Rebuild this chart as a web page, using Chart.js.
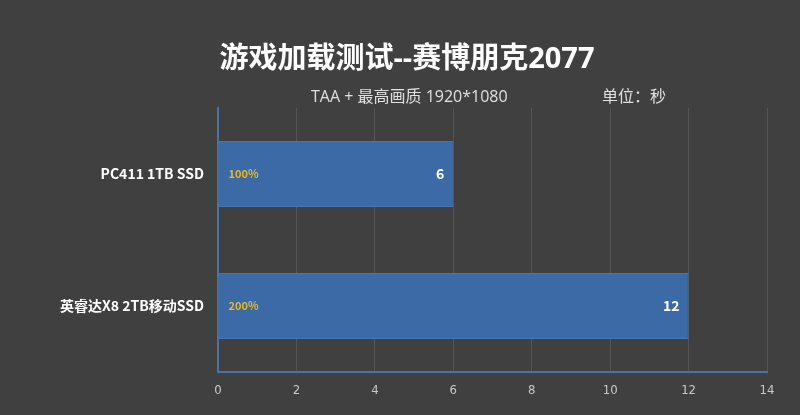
<!DOCTYPE html>
<html>
<head>
<meta charset="utf-8">
<script src="https://cdn.jsdelivr.net/npm/chart.js@4.4.0/dist/chart.umd.min.js"></script>
<style>
  html, body { margin: 0; padding: 0; background: #404040; }
  #wrap { width: 800px; height: 415px; }
</style>
</head>
<body>
<div id="wrap"><canvas id="myChart" width="800" height="415"></canvas></div>
<script>
'use strict';

let titleText = '游戏加载测试--赛博朋克2077';
let subText = 'TAA + 最高画质 1920*1080';
let unitText = '单位：秒';

let drives = ['PC411 1TB SSD', '英睿达X8 2TB移动SSD'];
let loadTimes = [6, 12];
let ratioLabels = ['100%', '200%'];
let xTicks = [0, 2, 4, 6, 8, 10, 12, 14];

let cjk = '"Noto Sans CJK SC", "Noto Sans", sans-serif';
let wide = '"Open Sans", "Noto Sans CJK SC", sans-serif';

// title, subtitle and the labels inside bars
let textPlugin = {
  id: 'texts',
  afterDatasetsDraw(chart) {
    let ctx = chart.ctx;
    ctx.save();
    ctx.textBaseline = 'middle';

    ctx.fillStyle = '#ffffff';
    ctx.font = 'bold 29px ' + wide;
    ctx.textAlign = 'center';
    ctx.fillText(titleText, 407, 60);

    ctx.fillStyle = '#e0e0e0';
    ctx.font = '16px ' + wide;
    ctx.textAlign = 'left';
    ctx.fillText(subText, 311, 97);
    ctx.fillText(unitText, 602, 97);

    let meta = chart.getDatasetMeta(0);
    meta.data.forEach(function (bar, i) {
      ctx.font = 'bold 14px ' + cjk;
      ctx.fillStyle = '#ffffff';
      ctx.textAlign = 'right';
      ctx.fillText(String(loadTimes[i]), bar.x - 9, bar.y);

      ctx.font = 'bold 11px ' + cjk;
      ctx.fillStyle = '#e8b923';
      ctx.textAlign = 'left';
      ctx.fillText(ratioLabels[i], bar.base + 10, bar.y);
    });
    ctx.restore();
  }
};

let ctx = document.getElementById('myChart').getContext('2d');

new Chart(ctx, {
  type: 'bar',
  data: {
    labels: drives,
    datasets: [{
      data: loadTimes,
      backgroundColor: '#3b6aa6',
      borderColor: '#4677b3',
      borderWidth: 1,
      categoryPercentage: 1,
      barPercentage: 0.5
    }]
  },
  options: {
    indexAxis: 'y',
    responsive: false,
    animation: false,
    layout: { padding: { top: 108, right: 33, left: 0, bottom: 0 } },
    plugins: {
      legend: { display: false },
      tooltip: { enabled: false }
    },
    scales: {
      x: {
        min: 0,
        max: 14,
        afterBuildTicks(scale) {
          scale.ticks = xTicks.map(v => ({ value: v }));
        },
        afterFit(scale) { scale.height = 43; },
        grid: { color: '#555555', lineWidth: 1, drawTicks: false },
        border: { color: '#4a72a3', width: 2 },
        ticks: {
          color: '#c8c8c8',
          padding: 11,
          font: { family: '"Liberation Sans Narrow", "DejaVu Sans Condensed", sans-serif', size: 13 }
        }
      },
      y: {
        afterFit(scale) { scale.width = 218; },
        grid: { display: false, drawTicks: false },
        border: { color: '#4a72a3', width: 2 },
        ticks: {
          color: '#ffffff',
          padding: 14,
          font: { family: cjk, size: 14, weight: 'bold' }
        }
      }
    }
  },
  plugins: [textPlugin]
});
</script>
</body>
</html>
